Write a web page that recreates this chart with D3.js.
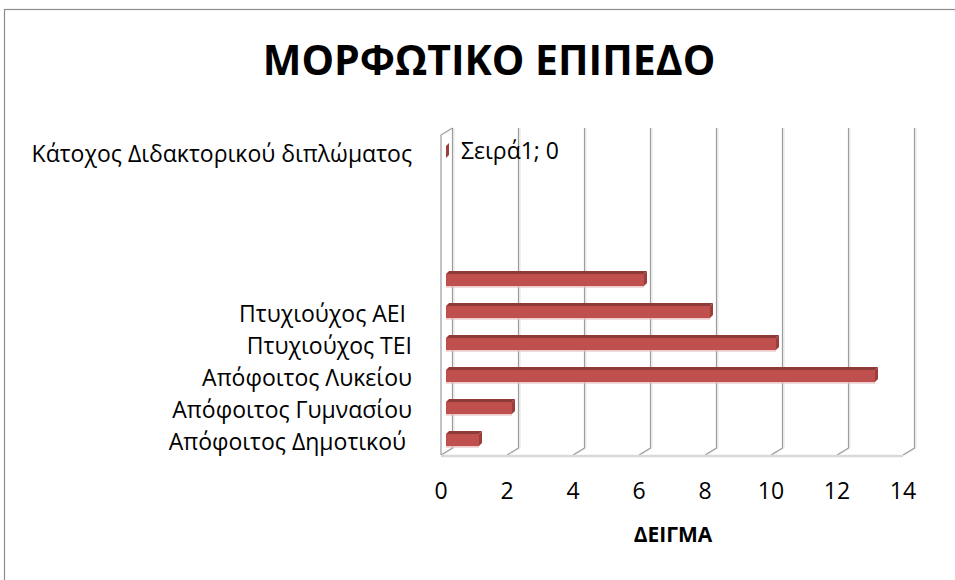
<!DOCTYPE html>
<html>
<head>
<meta charset="utf-8">
<script src="https://cdn.jsdelivr.net/npm/d3@7"></script>
<style>
  body { margin: 0; background: #fff; }
  text { font-family: "Open Sans", "Noto Sans", sans-serif; }
</style>
</head>
<body>
<script>
// categories bottom -> top (blank ones have no label in the original)
var categories = ["Απόφοιτος Δημοτικού ", "Απόφοιτος Γυμνασίου", "Απόφοιτος Λυκείου",
  "Πτυχιούχος ΤΕΙ", "Πτυχιούχος ΑΕΙ ", "", "", "", "", "Κάτοχος Διδακτορικού διπλώματος"];
var values = [1, 2, 13, 10, 8, 6, null, null, null, 0];
var xTicks = [0, 2, 4, 6, 8, 10, 12, 14];
var seriesName = "Σειρά1";
var labelledIndex = [9];

const W = 955, H = 580;
const DX = 11.5, DY = -7;   // depth of the 3d box
const BX = 5, BD = 3;       // bar offset inside the box, bar depth

const svg = d3.select("body").append("svg")
  .attr("width", W)
  .attr("height", H);

// chart frame
svg.append("rect")
  .attr("x", 4.5).attr("y", 9.5)
  .attr("width", 970).attr("height", 620)
  .attr("fill", "none")
  .attr("stroke", "#8c8c8c")
  .attr("stroke-width", 1.2);

svg.append("text")
  .attr("x", 489).attr("y", 75)
  .attr("text-anchor", "middle")
  .style("font-size", "41px")
  .style("font-weight", "bold")
  .text("ΜΟΡΦΩΤΙΚΟ ΕΠΙΠΕΔΟ");

const x = d3.scaleLinear().domain([0, 14]).range([441, 903]);
const y = d3.scaleBand().domain(d3.range(categories.length)).range([455, 135]).paddingInner(0.62).paddingOuter(0.31);
const yTop = 135, yFloor = 455;

// back wall gridlines
var grid = svg.append("g");
xTicks.forEach(function(t) {
  var xf = x(t), xb = x(t) + DX;
  grid.append("path")
    .attr("d", "M" + (xb + 1.5) + "," + (yTop + DY) + "L" + (xb + 1.5) + "," + (yFloor + DY) + "L" + (xf + 1.5) + "," + yFloor)
    .attr("fill", "none").attr("stroke", "#e3e3e3").attr("stroke-width", 1);
  grid.append("path")
    .attr("d", "M" + xb + "," + (yTop + DY) + "L" + xb + "," + (yFloor + DY) + "L" + xf + "," + yFloor)
    .attr("fill", "none").attr("stroke", "#9c9c9c").attr("stroke-width", 1.2);
});

// left side wall
svg.append("path")
  .attr("d", "M" + x(0) + "," + yFloor + "L" + x(0) + "," + yTop + "L" + (x(0) + DX) + "," + (yTop + DY))
  .attr("fill", "none").attr("stroke", "#9c9c9c").attr("stroke-width", 1.2);

// floor front edge
svg.append("line")
  .attr("x1", x(0)).attr("x2", x(14))
  .attr("y1", yFloor + 1).attr("y2", yFloor + 1)
  .attr("stroke", "#d9d9d9").attr("stroke-width", 2.5);

// bars
var bars = svg.selectAll(".bar")
  .data(values.map(function(v, i) { return { i: i, v: v }; }).filter(function(d) { return d.v !== null; }))
  .enter().append("g").attr("class", "bar");

function face(d) {
  var x0 = x(0) + BX, x1 = x(d.v) + BX;
  var h = 12;
  var yt = y(d.i) + y.bandwidth() / 2 - h / 2 + 1;
  return { x0: x0, x1: x1, yt: yt, yb: yt + h };
}

bars.append("rect")
  .attr("x", function(d) { return face(d).x0; })
  .attr("y", function(d) { return face(d).yt; })
  .attr("width", function(d) { return face(d).x1 - face(d).x0; })
  .attr("height", 12)
  .attr("fill", "#c0504d");

bars.append("path")
  .attr("d", function(d) {
    var f = face(d);
    return "M" + f.x0 + "," + f.yt + "L" + f.x1 + "," + f.yt + "L" + (f.x1 + BD) + "," + (f.yt - BD) + "L" + (f.x0 + BD) + "," + (f.yt - BD) + "Z";
  })
  .attr("fill", "#8e3a38");

bars.append("path")
  .attr("d", function(d) {
    var f = face(d);
    return "M" + f.x1 + "," + f.yt + "L" + (f.x1 + BD) + "," + (f.yt - BD) + "L" + (f.x1 + BD) + "," + (f.yb - BD) + "L" + f.x1 + "," + f.yb + "Z";
  })
  .attr("fill", "#9c3f3c");

// bar shadow line under each bar
bars.append("line")
  .attr("x1", function(d) { return face(d).x0; })
  .attr("x2", function(d) { return face(d).x1; })
  .attr("y1", function(d) { return face(d).yb + 0.8; })
  .attr("y2", function(d) { return face(d).yb + 0.8; })
  .attr("stroke", "#e6b9b8").attr("stroke-width", 1.2);

// category labels
svg.selectAll(".cat")
  .data(categories)
  .enter().append("text")
  .attr("class", "cat")
  .attr("x", 412)
  .attr("y", function(d, i) { return y(i) + y.bandwidth() / 2 + 10.5; })
  .attr("text-anchor", "end")
  .style("white-space", "pre")
  .style("font-size", "23px")
  .attr("fill", "#000")
  .text(function(d) { return d; });

// data label
labelledIndex.forEach(function(i) {
  svg.append("text")
    .attr("x", 461)
    .attr("y", y(i) + y.bandwidth() / 2 + 8)
    .style("font-size", "23px")
    .text(seriesName + "; " + values[i]);
});

// x tick labels
svg.selectAll(".tick")
  .data(xTicks)
  .enter().append("text")
  .attr("class", "tick")
  .attr("x", function(d) { return x(d); })
  .attr("y", 499)
  .attr("text-anchor", "middle")
  .style("font-size", "23px")
  .text(function(d) { return d; });

svg.append("text")
  .attr("x", 673).attr("y", 542)
  .attr("text-anchor", "middle")
  .style("font-size", "21px")
  .style("font-weight", "bold")
  .text("ΔΕΙΓΜΑ");
</script>
</body>
</html>
